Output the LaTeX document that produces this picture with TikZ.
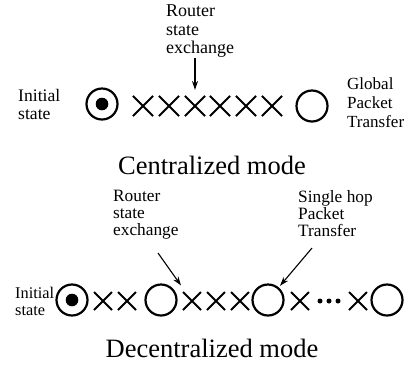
\documentclass[tikz,border=0pt]{standalone}
\usepackage{fontspec}
\setmainfont{Liberation Serif}
\usetikzlibrary{arrows.meta,shapes.misc}
\begin{document}
\begin{tikzpicture}[x=1pt,y=-1pt,
  lbl/.style={font=\fontsize{18}{18.5}\selectfont, align=left, inner sep=0pt, anchor=north west},
  slbl/.style={font=\fontsize{17.3}{17}\selectfont, align=left, inner sep=0pt, anchor=north west},
  ttl/.style={font=\fontsize{26.5}{30}\selectfont, inner sep=0pt},
  ring/.style={circle, draw, line width=2.2pt, minimum size=31pt, inner sep=0pt},
  dotring/.style={ring, path picture={\fill (path picture bounding box.center) circle (6.3pt);}},
  bigx/.style={cross out, draw, line width=2.1pt, minimum size=18pt, inner sep=0pt},
  smallx/.style={cross out, draw, line width=2pt, minimum size=16pt, inner sep=0pt},
  dotpt/.style={circle, fill, minimum size=5pt, inner sep=0pt},
  arr/.style={line width=1.1pt, -{Stealth[length=9pt,width=6pt]}}
]
\useasboundingbox (0,0) rectangle (406,368);

% ---------- Centralized ----------
\node[lbl] (rse1) at (166,5) {Router\\state\\exchange};
\node[lbl, anchor=west, font=\fontsize{17.6}{18}\selectfont] (init1) at (18,104) {Initial\\state};
\node[dotring] (c0) at (102,104) {};
\node[bigx] (x1) at (143,106) {};
\node[bigx] (x2) at (169,106) {};
\node[bigx] (x3) at (195,106) {};
\node[bigx] (x4) at (220,106) {};
\node[bigx] (x5) at (246,106) {};
\node[bigx] (x6) at (272,106) {};
\node[ring] (c1) at (312,106) {};
\node[lbl, font=\fontsize{17}{19}\selectfont] (gpt) at (347,77) {Global\\Packet\\Transfer};
\draw[arr, shorten >=6pt] (rse1.south -| x3) -- (x3.north);
\node[ttl] (t1) at (212,165) {Centralized mode};

% ---------- Decentralized ----------
\node[slbl] (rse2) at (113,190) {Router\\state\\exchange};
\node[slbl] (shp) at (298,190) {Single hop\\Packet\\Transfer};
\node[slbl, anchor=west, font=\fontsize{16.3}{17}\selectfont] (init2) at (15,301) {Initial\\state};
\node[dotring] (d0) at (72,300) {};
\node[smallx] (y1) at (103,301) {};
\node[smallx] (y2) at (127,301) {};
\node[ring] (d1) at (161,300) {};
\node[smallx] (y3) at (192,301) {};
\node[smallx] (y4) at (216,301) {};
\node[smallx] (y5) at (240,301) {};
\node[ring] (d2) at (268,300) {};
\node[smallx] (y6) at (300,301) {};
\node[dotpt] (p1) at (320,301) {};
\node[dotpt] (p2) at (329,301) {};
\node[dotpt] (p3) at (338,301) {};
\node[smallx] (y7) at (358,301) {};
\node[ring] (d3) at (387,300) {};
\coordinate (a1) at (158,253);
\coordinate (a2) at (312,248);
\draw[arr, shorten >=8pt] (a1) -- (y3);
\draw[arr, shorten >=2pt] (a2) -- (d2);
\node[ttl] (t2) at (212,348) {Decentralized mode};
\end{tikzpicture}
\end{document}
